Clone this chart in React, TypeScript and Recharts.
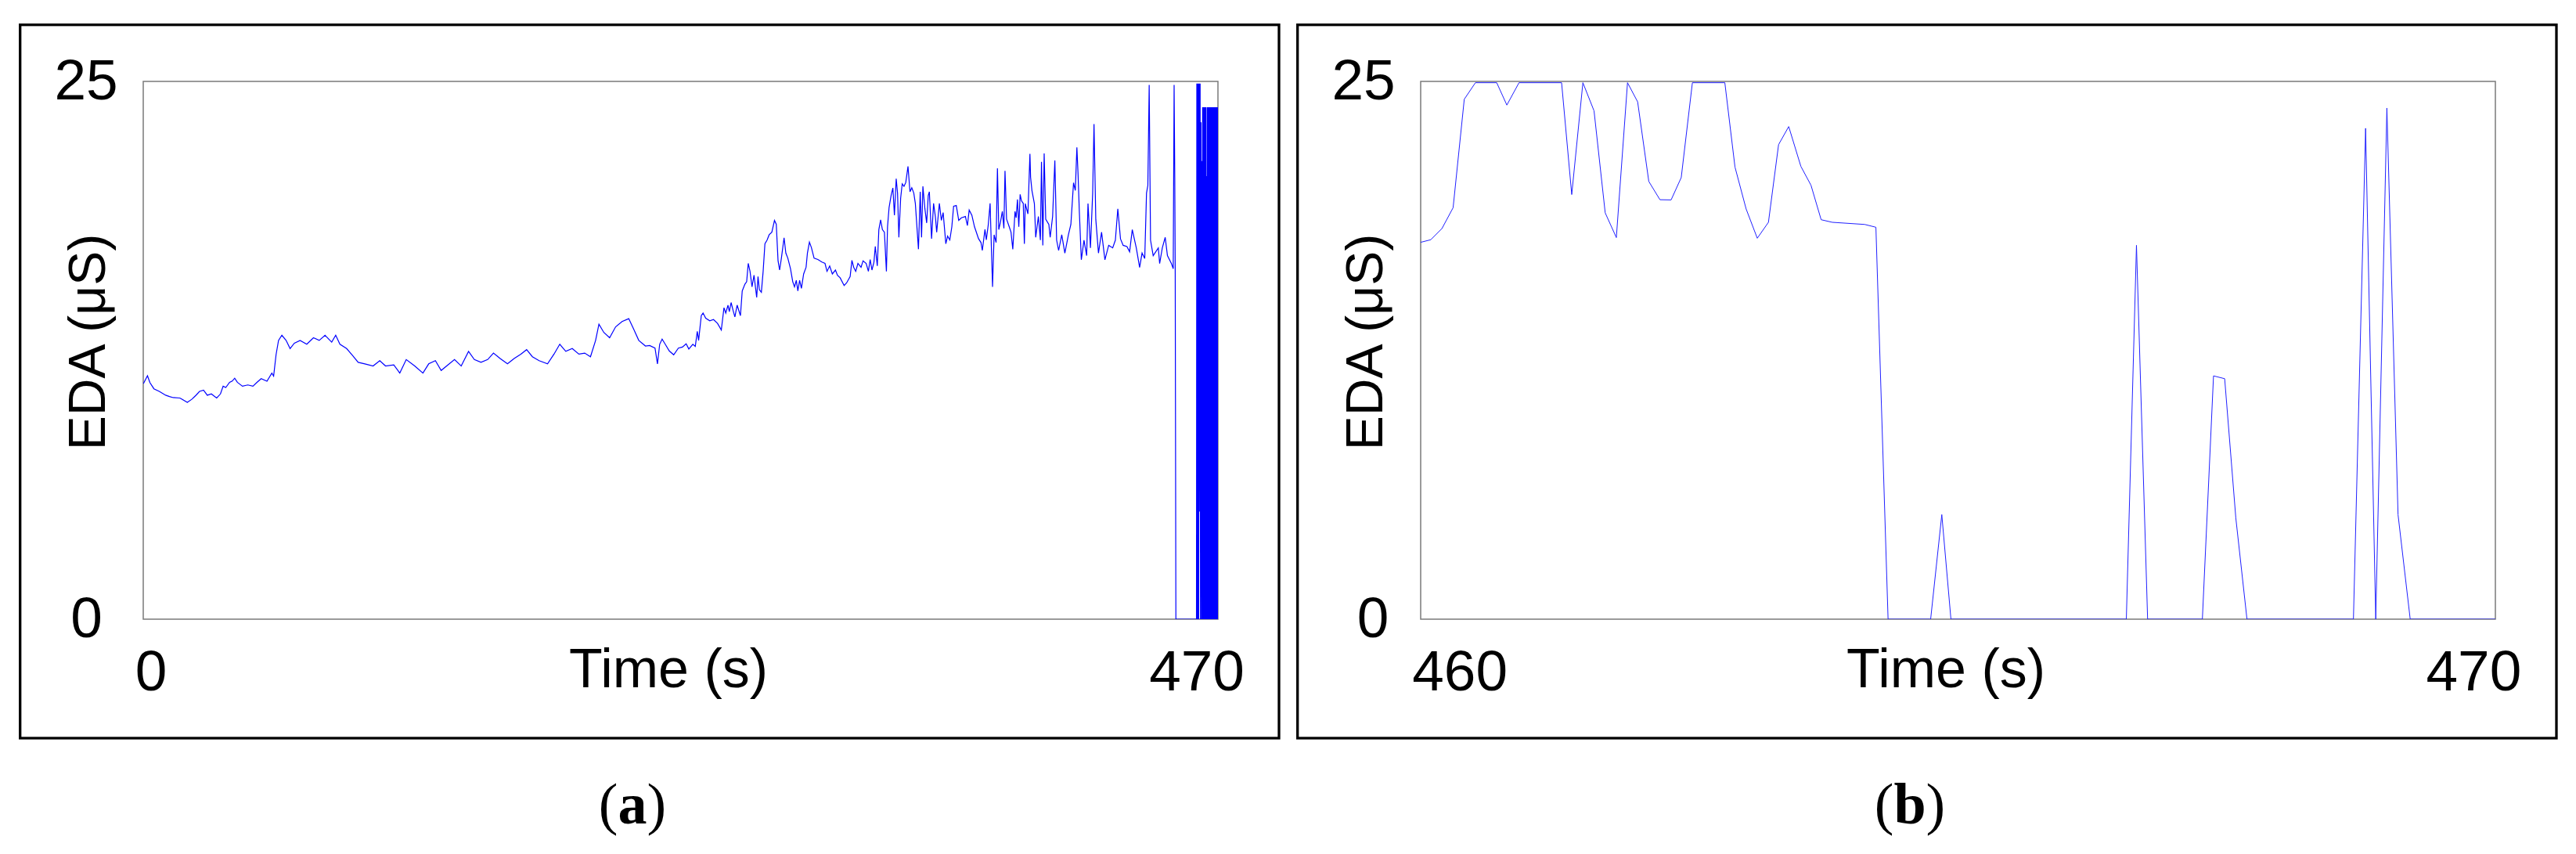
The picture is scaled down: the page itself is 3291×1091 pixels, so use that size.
import React from 'react';
import { LineChart, Line, XAxis, YAxis } from 'recharts';

// ---------- axis ticks / domains ----------
const yTicks = [0, 25];
const yDomain: [number, number] = [0, 25];
const xTicksA = [0, 470];
const xTicksB = [460, 470];
const xDomainA: [number, number] = [0, 483];
const xDomainB: [number, number] = [459.69, 470.29];

// ---------- panel (a): EDA trace, [time s, EDA µS] ----------
const traceA_start: [number, number][] = [
  [0.1, 10.95], [1.9, 11.32], [3.0, 11.0], [4.8, 10.71], [7.2, 10.59], [10.1, 10.41], [11.8, 10.35],
  [13.5, 10.3], [16.5, 10.28], [19.8, 10.08], [21.8, 10.22], [23.6, 10.4], [25.3, 10.59], [27.1, 10.65],
  [28.8, 10.41], [30.6, 10.47], [33.0, 10.28], [34.7, 10.47], [35.9, 10.83], [37.1, 10.77], [38.8, 11.01],
  [40.0, 11.07], [41.1, 11.2], [42.3, 11.01], [44.6, 10.83], [47.0, 10.89], [49.3, 10.83], [51.1, 11.01],
  [53.0, 11.18], [55.6, 11.06], [57.8, 11.44], [58.6, 11.3], [59.7, 12.3], [60.8, 12.96], [62.3, 13.2],
  [64.2, 12.96], [66.0, 12.58], [67.9, 12.83], [70.5, 12.96], [73.5, 12.78], [76.5, 13.08], [79.1, 12.96],
  [81.7, 13.2], [84.7, 12.88], [86.5, 13.2], [88.4, 12.78], [91.4, 12.58], [94.0, 12.27], [96.6, 11.94],
  [99.6, 11.87], [103.3, 11.77], [106.3, 12.02], [108.9, 11.77], [112.6, 11.82], [115.3, 11.44],
  [118.2, 12.07], [122.0, 11.77], [125.7, 11.44], [128.3, 11.87], [131.3, 12.02], [133.9, 11.56],
  [136.9, 11.82], [139.9, 12.07], [142.9, 11.77], [146.2, 12.45], [148.8, 12.07], [151.8, 11.94],
  [154.8, 12.07], [157.4, 12.37], [160.4, 12.12], [163.7, 11.87], [166.7, 12.12], [169.7, 12.32],
  [172.3, 12.53], [174.9, 12.2], [177.9, 12.02], [181.7, 11.87], [184.6, 12.32], [187.2, 12.78],
  [189.9, 12.45], [192.8, 12.58], [195.8, 12.32], [198.4, 12.37], [201.0, 12.2], [203.3, 12.96],
  [204.8, 13.71], [207.0, 13.33], [209.6, 13.08], [212.3, 13.59], [215.2, 13.84], [218.2, 13.97],
  [220.5, 13.46], [222.7, 12.96], [225.7, 12.7],
];

const traceA_rise: [number, number][] = [
  [227.6, 12.72], [230.0, 12.6], [231.1, 11.87], [232.1, 12.78], [233.2, 13.02], [234.6, 12.78],
  [236.4, 12.47], [238.4, 12.29], [240.5, 12.6], [242.3, 12.65], [244.0, 12.8], [245.2, 12.56],
  [247.0, 12.78], [248.1, 12.68], [249.0, 13.38], [249.6, 12.96], [250.8, 14.11], [251.6, 14.23],
  [252.8, 13.99], [254.6, 13.87], [256.3, 13.93], [258.1, 13.75], [259.8, 13.44], [261.0, 14.48],
  [261.8, 14.23], [262.8, 14.6], [263.4, 14.3], [264.2, 14.72], [265.1, 14.35], [265.9, 14.05],
  [266.9, 14.6], [268.4, 14.11], [269.2, 15.26], [270.4, 15.57], [271.2, 15.69], [271.9, 16.54],
  [272.7, 16.17], [273.6, 15.45], [274.5, 15.99], [275.7, 14.96], [276.3, 15.93], [276.9, 15.32],
  [277.8, 15.2], [278.6, 16.17], [279.4, 17.45], [280.4, 17.63], [281.3, 17.87], [282.5, 17.99],
  [283.7, 18.54], [284.5, 18.36], [285.3, 16.66], [286.0, 16.23], [286.8, 16.78], [288.0, 17.73],
  [288.8, 17.02], [289.7, 16.78], [290.9, 16.29], [291.9, 15.69], [292.7, 15.45], [293.5, 15.75],
  [294.2, 15.26], [295.0, 15.75], [295.8, 15.38], [296.8, 16.05], [297.9, 16.36], [298.5, 17.02],
  [299.4, 17.53], [300.3, 17.27], [301.5, 16.78], [303.2, 16.72], [305.0, 16.6], [306.4, 16.54],
  [307.3, 16.17], [308.5, 16.42], [309.7, 16.05], [311.1, 16.23], [312.0, 15.99], [313.2, 15.87],
  [315.0, 15.51], [316.1, 15.63], [317.7, 15.93], [318.5, 16.68], [319.3, 16.36], [320.2, 16.17],
  [321.2, 16.54], [322.6, 16.36], [323.5, 16.66], [324.9, 16.54], [325.9, 16.17], [326.7, 16.72],
  [327.5, 16.23], [328.4, 16.6], [329.0, 17.33], [329.9, 16.42], [330.6, 18.11], [331.4, 18.56],
  [332.2, 18.11], [333.1, 17.99], [334.0, 16.17], [334.5, 18.24], [335.2, 19.14], [336.1, 19.69],
  [336.9, 20.05], [337.6, 18.78], [338.4, 20.48], [339.0, 19.81], [339.6, 17.75], [340.4, 19.57],
  [341.1, 20.24], [341.9, 20.12], [342.7, 20.3], [343.7, 21.05], [344.6, 19.87], [345.4, 20.06],
  [346.3, 19.81], [347.0, 19.33], [347.8, 18.11], [348.4, 17.2], [349.2, 19.87], [349.8, 17.75],
  [350.4, 20.12], [351.3, 19.08], [352.1, 18.42], [352.8, 19.69], [353.3, 19.87], [354.3, 17.69],
  [355.2, 19.33], [356.0, 18.72], [356.6, 17.99], [357.8, 19.33], [358.7, 18.54], [359.5, 18.9],
  [360.7, 17.45], [361.5, 17.81], [362.5, 17.63], [363.4, 18.24], [364.2, 19.2], [365.4, 19.23],
  [366.5, 18.54], [367.7, 18.66], [369.5, 18.72], [370.4, 18.3], [371.2, 19.02], [372.4, 18.78],
  [373.6, 18.24], [375.4, 17.69], [376.5, 17.51], [377.1, 17.14], [378.3, 18.12], [378.9, 17.63],
  [379.8, 18.36], [380.6, 19.33], [381.2, 17.2], [381.7, 15.45], [382.4, 17.87], [383.3, 17.51],
  [383.9, 20.96], [384.5, 18.11], [385.3, 18.48], [386.1, 18.96], [386.8, 18.17], [387.3, 20.84],
  [388.0, 18.6], [389.2, 18.24], [390.0, 17.99], [390.8, 17.2], [391.8, 18.96], [392.3, 18.66],
  [392.9, 19.51], [393.5, 18.24], [394.1, 19.75], [394.7, 19.45], [395.5, 19.33], [396.0, 17.45],
];

const traceA_late: [number, number][] = [
  [396.4, 19.32], [397.6, 18.84], [398.5, 21.63], [398.8, 20.54], [399.4, 19.93], [400.5, 19.32],
  [401.1, 17.75], [402.3, 18.72], [403.2, 17.62], [403.7, 21.26], [404.3, 17.38], [404.9, 21.65],
  [405.6, 18.59], [407.0, 18.35], [407.6, 17.75], [408.7, 18.72], [409.3, 20.29], [409.7, 21.32],
  [410.5, 17.62], [411.4, 17.14], [412.8, 17.87], [414.2, 17.02], [415.8, 17.87], [416.9, 18.35],
  [418.1, 20.29], [418.9, 19.93], [419.6, 21.93], [420.1, 20.78], [420.7, 18.96], [421.6, 16.71],
  [422.8, 17.62], [424.0, 16.9], [424.6, 19.32], [425.7, 17.26], [426.7, 19.81], [427.3, 23.02],
  [428.1, 18.59], [429.3, 17.02], [430.7, 17.99], [432.2, 16.71], [433.9, 17.38], [435.7, 17.26],
  [436.9, 17.62], [438.0, 19.08], [439.2, 17.68], [440.4, 17.38], [442.1, 17.32], [443.3, 17.08],
  [444.5, 18.11], [446.3, 17.26], [447.8, 16.35], [448.9, 17.02], [450.1, 16.77], [450.9, 19.81],
  [451.5, 20.17], [452.1, 24.84], [452.7, 17.62], [453.9, 16.9], [456.2, 17.26], [456.8, 16.53],
  [458.0, 17.26], [459.3, 17.75], [460.3, 16.9], [462.1, 16.53], [462.9, 16.29], [463.3, 24.84],
  [463.6, 20.54], [463.8, 16.05], [464.1, 0],
];

const traceA_tail: [number, number][] = [
  [473.35, 0], [473.5, 24.9], [473.65, 0], [473.85, 24.9], [474.05, 0], [474.2, 24.9], [474.35, 0],
  [474.6, 24.9], [474.85, 5], [475.0, 24.9], [475.15, 0], [475.4, 23.1], [475.6, 0], [475.75, 21.3],
  [475.9, 0], [476.1, 23.8], [476.2, 0], [476.35, 23.8], [476.5, 0], [476.65, 23.8], [476.8, 0],
  [476.95, 23.8], [477.1, 0], [477.25, 23.8], [477.4, 0], [477.55, 23.8], [477.7, 0], [477.85, 20.6],
  [478.0, 0], [478.15, 23.8], [478.3, 0], [478.45, 23.8], [478.6, 0], [478.75, 23.8], [478.9, 0],
  [479.05, 23.8], [479.2, 0], [479.35, 23.8], [479.5, 0], [479.65, 23.8], [479.8, 0], [479.95, 23.8],
  [480.1, 0], [480.25, 23.8], [480.4, 0], [480.55, 23.8], [480.7, 0], [480.85, 23.8], [481.0, 0],
  [481.15, 23.8], [481.3, 0], [481.45, 23.8], [481.6, 0], [481.75, 23.8], [481.9, 0], [482.05, 23.8],
  [482.2, 0], [482.35, 23.8], [482.5, 0], [482.65, 23.8], [482.8, 0], [482.95, 23.8],
];

// ---------- panel (b): zoom 460–470 s ----------
const traceB: [number, number][] = [
  [459.69, 17.52], [459.79, 17.64], [459.9, 18.16], [460.01, 19.13], [460.12, 24.17], [460.23, 24.94],
  [460.44, 24.94], [460.54, 23.9], [460.66, 24.94], [461.08, 24.94], [461.18, 19.74], [461.29, 24.94],
  [461.4, 23.63], [461.51, 18.89], [461.62, 17.74], [461.73, 24.94], [461.83, 24.05], [461.94, 20.35],
  [462.05, 19.5], [462.16, 19.49], [462.26, 20.53], [462.37, 24.94], [462.69, 24.94], [462.79, 21.02],
  [462.9, 19.07], [463.01, 17.71], [463.12, 18.45], [463.22, 22.06], [463.32, 22.9], [463.44, 21.05],
  [463.54, 20.17], [463.64, 18.57], [463.75, 18.45], [464.07, 18.35], [464.18, 18.22], [464.3, 0],
  [464.72, 0], [464.83, 4.86], [464.92, 0], [466.65, 0], [466.75, 17.38], [466.86, 0], [467.4, 0],
  [467.51, 11.31], [467.62, 11.18], [467.73, 4.7], [467.84, 0], [468.89, 0], [469.01, 22.82],
  [469.11, 0], [469.22, 23.76], [469.33, 4.86], [469.45, 0], [470.29, 0],
];

const toRows = (pts: [number, number][]) => pts.map(([t, v]) => ({ t, v }));
const dataA = toRows([...traceA_start, ...traceA_rise, ...traceA_late, ...traceA_tail]);
const dataB = toRows(traceB);

const SANS = '"Liberation Sans", Arial, Helvetica, sans-serif';
const SERIF = '"Liberation Serif", "Times New Roman", serif';

const XTick = (props: any) => {
  const { x, payload } = props;
  return (
    <text x={x + 10} y={882} textAnchor="middle" fontFamily={SANS} fontSize={73} fill="#000">
      {payload.value}
    </text>
  );
};

const makeYTick = (centers: Record<number, number>) => (props: any) => {
  const { y, payload } = props;
  return (
    <text x={centers[payload.value]} y={y + 23} textAnchor="middle" fontFamily={SANS} fontSize={73} fill="#000">
      {payload.value}
    </text>
  );
};

const YTickA = makeYTick({ 25: 110, 0: 110.5 });
const YTickB = makeYTick({ 25: 102, 0: 114 });

const Overlay = () => (
  <svg width={3291} height={1091} style={{ position: 'absolute', left: 0, top: 0 }}>
    <rect x={0} y={0} width={3291} height={1091} fill="#fff" />
    {/* outer panel boxes */}
    <rect x={25.7} y={31.7} width={1608.3} height={911.3} fill="none" stroke="#000" strokeWidth={3.3} />
    <rect x={1657.7} y={31.7} width={1608.3} height={911.3} fill="none" stroke="#000" strokeWidth={3.3} />
    {/* plot frames */}
    <rect x={183} y={104} width={1373} height={687} fill="none" stroke="#7a7a7a" strokeWidth={1.5} />
    <rect x={1815} y={104} width={1373} height={687} fill="none" stroke="#7a7a7a" strokeWidth={1.5} />
    {/* axis titles */}
    <text x={854} y={878} textAnchor="middle" fontFamily={SANS} fontSize={70} fill="#000">Time (s)</text>
    <text x={2486} y={878} textAnchor="middle" fontFamily={SANS} fontSize={70} fill="#000">Time (s)</text>
    <text x={134} y={437} transform="rotate(-90 134 437)" textAnchor="middle" fontFamily={SANS} fontSize={66} fill="#000">EDA (μS)</text>
    <text x={1766} y={437} transform="rotate(-90 1766 437)" textAnchor="middle" fontFamily={SANS} fontSize={66} fill="#000">EDA (μS)</text>
    {/* captions */}
    <text x={808} y={1052} textAnchor="middle" fontFamily={SERIF} fontSize={74} fill="#000">
      (<tspan fontWeight="bold">a</tspan>)
    </text>
    <text x={2440} y={1052} textAnchor="middle" fontFamily={SERIF} fontSize={74} fill="#000">
      (<tspan fontWeight="bold">b</tspan>)
    </text>
  </svg>
);

export default function App() {
  return (
    <div style={{ position: 'absolute', left: 0, top: 0, width: 3291, height: 1091, background: '#fff' }}>
      <Overlay />
      <div style={{ position: 'absolute', left: 0, top: 0 }}>
        <LineChart width={1640} height={1091} data={dataA} margin={{ top: 104, left: 103, right: 84, bottom: 240 }}>
          <XAxis dataKey="t" type="number" domain={xDomainA} ticks={xTicksA} allowDataOverflow
            tickLine={false} axisLine={false} height={60} tick={<XTick />} interval={0} />
          <YAxis type="number" domain={yDomain} ticks={yTicks} allowDataOverflow
            tickLine={false} axisLine={false} width={80} tick={<YTickA />} interval={0} />
          <Line type="linear" dataKey="v" stroke="#0000ff" strokeWidth={1.2} dot={false} isAnimationActive={false} />
        </LineChart>
      </div>
      <div style={{ position: 'absolute', left: 1640, top: 0 }}>
        <LineChart width={1651} height={1091} data={dataB} margin={{ top: 104, left: 95, right: 103, bottom: 240 }}>
          <XAxis dataKey="t" type="number" domain={xDomainB} ticks={xTicksB} allowDataOverflow
            tickLine={false} axisLine={false} height={60} tick={<XTick />} interval={0} />
          <YAxis type="number" domain={yDomain} ticks={yTicks} allowDataOverflow
            tickLine={false} axisLine={false} width={80} tick={<YTickB />} interval={0} />
          <Line type="linear" dataKey="v" stroke="#2020ff" strokeWidth={1} dot={false} isAnimationActive={false} />
        </LineChart>
      </div>
    </div>
  );
}
